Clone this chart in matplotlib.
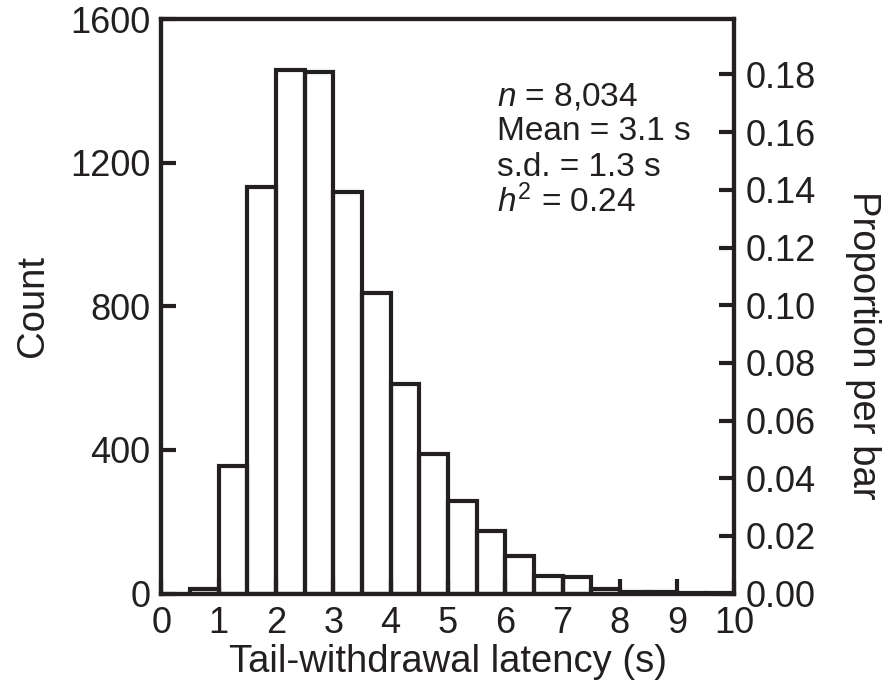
import numpy as np
import matplotlib
matplotlib.use("Agg")
import matplotlib.pyplot as plt

plt.rcParams['font.family'] = ['Liberation Sans', 'DejaVu Sans']
plt.rcParams['mathtext.fontset'] = 'custom'
plt.rcParams['mathtext.rm'] = 'Liberation Sans'
plt.rcParams['mathtext.it'] = 'Liberation Sans:italic'

# Data: bin left edges (s) and counts per 0.5-s bin
bin_left = [0.5, 1.0, 1.5, 2.0, 2.5, 3.0, 3.5, 4.0, 4.5, 5.0,
            5.5, 6.0, 6.5, 7.0, 7.5, 8.0, 8.5, 9.0, 9.5]
counts = [14, 355, 1134, 1459, 1452, 1118, 837, 584, 388, 259,
          175, 105, 50, 47, 13, 3, 3, 2, 1]
bin_width = 0.5
n_total = 8034
x_ticks = list(range(0, 11))
y_ticks = [0, 400, 800, 1200, 1600]
prop_ticks = [0.00, 0.02, 0.04, 0.06, 0.08, 0.10, 0.12, 0.14, 0.16, 0.18]
stats_lines = [r"$n$ = 8,034", "Mean = 3.1 s", "s.d. = 1.3 s", r"$h^2$ = 0.24"]

ink = '#231f20'
fs_tick = 26
fs_label = 27.5

fig = plt.figure(figsize=(8.87, 6.87), dpi=100)
ax = fig.add_axes([0.182, 0.136, 0.646, 0.836])

ax.bar(bin_left, counts, width=bin_width, align='edge', fill=False,
       edgecolor=ink, linewidth=3.0, joinstyle='miter')

ax.set_xlim(0, 10)
ax.set_ylim(0, 1600)
ax.set_xticks(x_ticks)
ax.set_yticks(y_ticks)
for s in ax.spines.values():
    s.set_linewidth(3.0)
    s.set_color(ink)
ax.tick_params(axis='both', direction='in', length=11, width=3.0, color=ink,
               labelsize=fs_tick, labelcolor=ink, pad=8)
ax.tick_params(axis='x', pad=9)
ax.set_xlabel("Tail-withdrawal latency (s)", fontsize=fs_label, color=ink, labelpad=2)
ax.set_ylabel("Count", fontsize=fs_label, color=ink, labelpad=14)

ax2 = ax.twinx()
ax2.set_ylim(0, 1600 / n_total)
ax2.set_yticks(prop_ticks)
ax2.set_yticklabels([f"{t:.2f}" for t in prop_ticks])
for s in ax2.spines.values():
    s.set_linewidth(3.0)
    s.set_color(ink)
ax2.tick_params(axis='y', direction='in', length=11, width=3.0, color=ink,
                labelsize=fs_tick, labelcolor=ink, pad=8)
ax2.set_ylabel("Proportion per bar", fontsize=fs_label, color=ink, rotation=270,
               va='center')
ax2.yaxis.set_label_coords(1.225, 0.433)

for i, line in enumerate(stats_lines):
    ax.text(5.85, 1384 - i * 98, line, fontsize=24, color=ink, va='center', ha='left')

fig.savefig("out.png", dpi=100)
